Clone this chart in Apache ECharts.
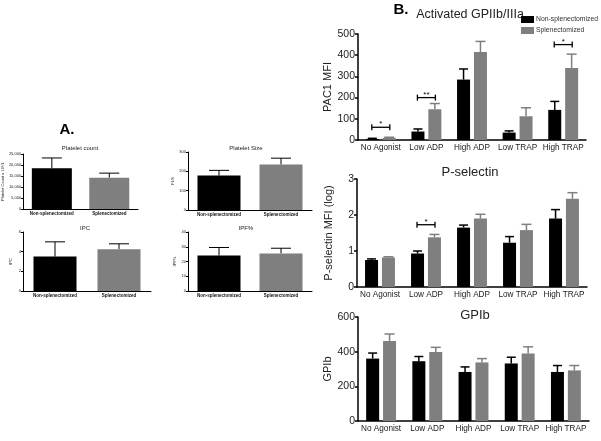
<!DOCTYPE html>
<html><head><meta charset="utf-8">
<script src="https://cdn.jsdelivr.net/npm/echarts@6/dist/echarts.min.js"></script>
<style>html,body{margin:0;padding:0;background:#fff}#c{width:601px;height:441px}</style>
</head><body><div id="c"></div>
<script>
// ---------- data ----------
const groups = ['Non-splenectomized', 'Splenectomized'];
const agonists = ['No Agonist', 'Low ADP', 'High ADP', 'Low TRAP', 'High TRAP'];

// Panel A (mean, SEM)
const plateletCount = [18500, 14200];
const plateletCountErr = [4700, 2100];
const plateletSize = [178, 235];
const plateletSizeErr = [27, 33];
const ipc = [3.5, 4.25];
const ipcErr = [1.5, 0.55];
const ipf = [24, 25.5];
const ipfErr = [5.5, 3.5];

// Panel B (mean, SEM)
const gpNon = [5, 40, 285, 35, 142];
const gpNonErr = [3, 12, 50, 8, 40];
const gpSpl = [10, 145, 415, 112, 340];
const gpSplErr = [3, 27, 50, 40, 65];
const psNon = [0.75, 0.93, 1.65, 1.23, 1.9];
const psNonErr = [0.03, 0.07, 0.07, 0.17, 0.25];
const psSpl = [0.82, 1.38, 1.9, 1.58, 2.45];
const psSplErr = [0.02, 0.08, 0.12, 0.16, 0.17];
const gpibNon = [360, 345, 283, 332, 283];
const gpibNonErr = [32, 27, 29, 36, 37];
const gpibSpl = [462, 398, 338, 390, 292];
const gpibSplErr = [40, 27, 22, 38, 28];

// significance brackets
const gpSigCats = [0, 1, 4];
const gpSigY = [60, 200, 450];
const gpSigText = ['*', '**', '*'];
const psSigCats = [1];
const psSigY = [1.73];
const psSigText = ['*'];

// ---------- styles ----------
const BLACK = '#000000', GREY = '#7f7f7f';
const FONT = 'Liberation Sans, Arial, Helvetica, sans-serif';

const grids = [
  {left: 23, top: 154, width: 115, height: 55},   // 0 platelet count
  {left: 188, top: 152, width: 124, height: 58},  // 1 platelet size
  {left: 23, top: 232, width: 128, height: 59},   // 2 IPC
  {left: 188, top: 232, width: 124, height: 59},  // 3 IPF%
  {left: 358, top: 34, width: 228, height: 106},  // 4 GPIIb/IIIa
  {left: 357, top: 179, width: 230, height: 108}, // 5 P-selectin
  {left: 358, top: 317, width: 231, height: 104}  // 6 GPIb
];

function xCat(gi, data, small) {
  return {
    type: 'category', gridIndex: gi, data: data,
    axisLine: {lineStyle: {color: '#000', width: small ? 1 : 1.5}},
    axisTick: {alignWithLabel: true, length: small ? 2 : 3, lineStyle: {color: '#000', width: small ? 1 : 1.5}},
    axisLabel: small
      ? {interval: 0, fontSize: 4.5, fontWeight: 'bold', color: '#111', margin: 2, fontFamily: FONT}
      : {interval: 0, hideOverlap: false, fontSize: 8.2, color: '#222', margin: 4, fontFamily: FONT}
  };
}
function yVal(gi, max, interval, name, small, gap) {
  return {
    type: 'value', gridIndex: gi, min: 0, max: max, interval: interval,
    name: name, nameLocation: 'middle', nameGap: gap, nameRotate: 90,
    nameTextStyle: small ? {fontSize: 4, color: '#222', fontFamily: FONT} : {fontSize: 11, color: '#222', fontFamily: FONT},
    splitLine: {show: false},
    axisLine: {show: true, lineStyle: {color: '#000', width: small ? 1 : 1.5}},
    axisTick: {show: true, length: small ? 2 : 3, lineStyle: {color: '#000', width: small ? 1 : 1.5}},
    axisLabel: small
      ? {fontSize: 4, color: '#222', margin: 2, fontFamily: FONT}
      : {fontSize: 10.5, color: '#222', margin: 3, fontFamily: FONT}
  };
}

function errSeries(ai, means, errs, offset, color, capHalf, lw) {
  return {
    type: 'custom', xAxisIndex: ai, yAxisIndex: ai, silent: true, z: 1,
    data: means.map((m, i) => [i, m, m + errs[i]]),
    renderItem: function (params, api) {
      const p0 = api.coord([api.value(0), api.value(1)]);
      const p1 = api.coord([api.value(0), api.value(2)]);
      const x = p0[0] + offset;
      return {type: 'group', children: [
        {type: 'line', shape: {x1: x, y1: p0[1], x2: x, y2: p1[1]}, style: {stroke: color, lineWidth: lw}},
        {type: 'line', shape: {x1: x - capHalf, y1: p1[1], x2: x + capHalf, y2: p1[1]}, style: {stroke: color, lineWidth: lw}}
      ]};
    }
  };
}

function sigSeries(ai, cats, ys, texts, half) {
  return {
    type: 'custom', xAxisIndex: ai, yAxisIndex: ai, silent: true, z: 5,
    data: cats.map((c, i) => [c, ys[i]]),
    renderItem: function (params, api) {
      const p = api.coord([api.value(0), api.value(1)]);
      const st = {stroke: '#000', lineWidth: 1.3};
      return {type: 'group', children: [
        {type: 'line', shape: {x1: p[0] - half, y1: p[1], x2: p[0] + half, y2: p[1]}, style: st},
        {type: 'line', shape: {x1: p[0] - half, y1: p[1] - 3, x2: p[0] - half, y2: p[1] + 3}, style: st},
        {type: 'line', shape: {x1: p[0] + half, y1: p[1] - 3, x2: p[0] + half, y2: p[1] + 3}, style: st},
        {type: 'text', style: {text: texts[params.dataIndex], x: p[0], y: p[1] + 1, textAlign: 'center', textVerticalAlign: 'bottom', fontSize: 8, fill: '#000', fontFamily: FONT}}
      ]};
    }
  };
}

function barA(ai, vals, width) {
  return {
    type: 'bar', xAxisIndex: ai, yAxisIndex: ai, barWidth: width, z: 2,
    data: vals.map((v, i) => ({value: v, itemStyle: {color: i === 0 ? BLACK : GREY}}))
  };
}
function barB(ai, name, vals, color) {
  return {
    type: 'bar', name: name, xAxisIndex: ai, yAxisIndex: ai, barWidth: 13, barGap: '30%', z: 2,
    itemStyle: {color: color}, data: vals
  };
}
const OFF = (13 + 13 * 0.3) / 2;

const xAxes = [
  xCat(0, groups, true), xCat(1, groups, true), xCat(2, groups, true), xCat(3, groups, true),
  xCat(4, agonists, false), xCat(5, agonists, false), xCat(6, agonists, false)
];
const yAxes = [
  yVal(0, 25000, 5000, 'Platelet Count x 10⁹/L', true, 14),
  yVal(1, 300, 100, 'FLS', true, 13),
  yVal(2, 6, 2, 'IPC', true, 10),
  yVal(3, 40, 10, 'IPF%', true, 11),
  yVal(4, 500, 100, 'PAC1 MFI', false, 25),
  yVal(5, 3, 1, 'P-selectin MFI (log)', false, 23),
  yVal(6, 600, 200, 'GPIb', false, 25)
];

const series = [
  barA(0, plateletCount, 40), errSeries(0, plateletCount, plateletCountErr, 0, BLACK, 10, 1),
  barA(1, plateletSize, 43), errSeries(1, plateletSize, plateletSizeErr, 0, BLACK, 10, 1),
  barA(2, ipc, 43), errSeries(2, ipc, ipcErr, 0, BLACK, 10, 1),
  barA(3, ipf, 43), errSeries(3, ipf, ipfErr, 0, BLACK, 10, 1),

  barB(4, groups[0], gpNon, BLACK), barB(4, groups[1], gpSpl, GREY),
  errSeries(4, gpNon, gpNonErr, -OFF, BLACK, 4.5, 1.5), errSeries(4, gpSpl, gpSplErr, OFF, GREY, 5, 1.5),
  sigSeries(4, gpSigCats, gpSigY, gpSigText, 9),

  barB(5, groups[0], psNon, BLACK), barB(5, groups[1], psSpl, GREY),
  errSeries(5, psNon, psNonErr, -OFF, BLACK, 4.5, 1.5), errSeries(5, psSpl, psSplErr, OFF, GREY, 5, 1.5),
  sigSeries(5, psSigCats, psSigY, psSigText, 9),

  barB(6, groups[0], gpibNon, BLACK), barB(6, groups[1], gpibSpl, GREY),
  errSeries(6, gpibNon, gpibNonErr, -OFF, BLACK, 4.5, 1.5), errSeries(6, gpibSpl, gpibSplErr, OFF, GREY, 5, 1.5)
];

const chart = echarts.init(document.getElementById('c'), null, {renderer: 'canvas'});
chart.setOption({
  animation: false,
  backgroundColor: '#fff',
  textStyle: {fontFamily: FONT},
  grid: grids,
  xAxis: xAxes,
  yAxis: yAxes,
  legend: {
    data: groups, orient: 'vertical', left: 521, top: 16, padding: 0, width: 80,
    itemWidth: 13, itemHeight: 7, itemGap: 4,
    icon: 'rect', textStyle: {fontSize: 6.8, color: '#333', fontFamily: FONT, padding: [0, 0, 0, -3], overflow: 'none', width: 70},
    selectedMode: false
  },
  graphic: [
    {type: 'text', x: 67, y: 130, style: {text: 'A.', fontSize: 15, fontWeight: 'bold', fill: '#000', fontFamily: FONT, textAlign: 'center', textVerticalAlign: 'middle'}},
    {type: 'text', x: 401, y: 10, style: {text: 'B.', fontSize: 15, fontWeight: 'bold', fill: '#000', fontFamily: FONT, textAlign: 'center', textVerticalAlign: 'middle'}},
    {type: 'text', x: 80, y: 148, style: {text: 'Platelet count', fontSize: 6, fill: '#222', fontFamily: FONT, textAlign: 'center', textVerticalAlign: 'middle'}},
    {type: 'text', x: 246, y: 148, style: {text: 'Platelet Size', fontSize: 6, fill: '#222', fontFamily: FONT, textAlign: 'center', textVerticalAlign: 'middle'}},
    {type: 'text', x: 85, y: 228, style: {text: 'IPC', fontSize: 6, fill: '#222', fontFamily: FONT, textAlign: 'center', textVerticalAlign: 'middle'}},
    {type: 'text', x: 246, y: 228, style: {text: 'IPF%', fontSize: 6, fill: '#222', fontFamily: FONT, textAlign: 'center', textVerticalAlign: 'middle'}},
    {type: 'text', x: 470, y: 15, style: {text: 'Activated GPIIb/IIIa', fontSize: 12.5, fill: '#222', fontFamily: FONT, textAlign: 'center', textVerticalAlign: 'middle'}},
    {type: 'text', x: 470, y: 172, style: {text: 'P-selectin', fontSize: 13, fill: '#222', fontFamily: FONT, textAlign: 'center', textVerticalAlign: 'middle'}},
    {type: 'text', x: 475, y: 315, style: {text: 'GPIb', fontSize: 13, fill: '#222', fontFamily: FONT, textAlign: 'center', textVerticalAlign: 'middle'}}
  ],
  series: series
});
</script>
</body></html>
